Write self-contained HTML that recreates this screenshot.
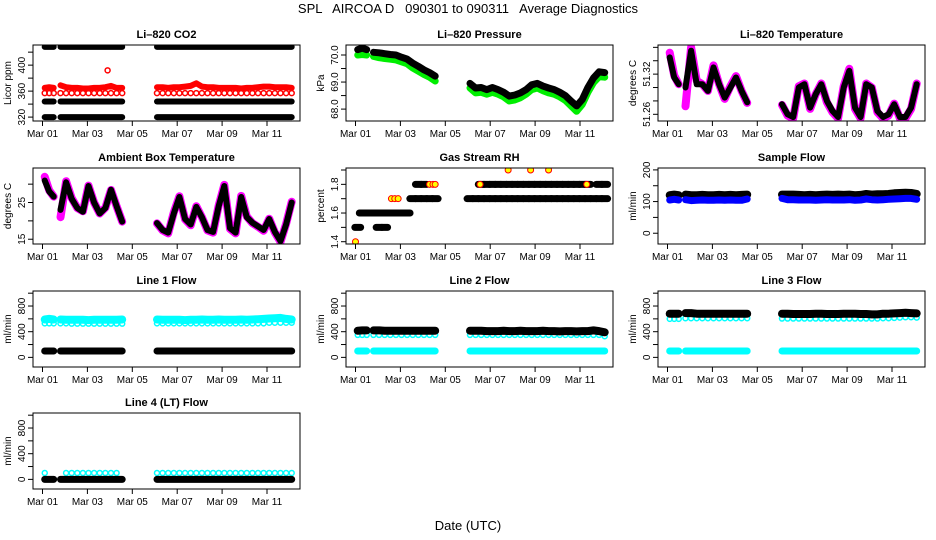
<!DOCTYPE html>
<html><head><meta charset="utf-8"><style>
html,body{margin:0;padding:0;background:#fff;}
svg{display:block;font-family:"Liberation Sans",sans-serif;}
</style></head><body>
<svg id="chart" width="936" height="540" viewBox="0 0 936 540" xmlns="http://www.w3.org/2000/svg">
<rect x="0" y="0" width="936" height="540" fill="#fff"/>
<text x="468" y="13" text-anchor="middle" font-size="13" style="white-space:pre" xml:space="preserve">SPL   AIRCOA D   090301 to 090311   Average Diagnostics</text>
<text x="468" y="530" text-anchor="middle" font-size="13">Date (UTC)</text>
</svg>
<script>
const T=[0.1,0.3,0.5, 0.8,1.05,1.3,1.55,1.8,2.05,2.3,2.55,2.8,3.05,3.3,3.55, 5.1,5.35,5.6,5.85,6.1,6.35,6.6,6.85,7.1,7.35,7.6,7.85,8.1,8.35,8.6,8.85,9.1,9.35,9.6,9.85,10.1,10.35,10.6,10.85,11.1];
const xTickDays=[0,2,4,6,8,10];
const xTickLabels=["Mar 01","Mar 03","Mar 05","Mar 07","Mar 09","Mar 11"];

const co2Black1=[320,320,320, 320,320,320,320,320,320,320,320,320,320,320,320, 320,320,320,320,320,320,320,320,320,320,320,320,320,320,320,320,320,320,320,320,320,320,320,320,320];
const co2Black2=[344,344,344, 344,344,344,344,344,344,344,344,344,344,344,344, 344,344,344,344,344,344,344,344,344,344,344,344,344,344,344,344,344,344,344,344,344,344,344,344,344];
const co2Black3=[428,428,428, 428,428,428,428,428,428,428,428,428,428,428,428, 428,428,428,428,428,428,428,428,428,428,428,428,428,428,428,428,428,428,428,428,428,428,428,428,428];
const co2Red=[365,366,365, 369,366,365,365,364,364,365,365,366,368,365,365, 366,366,365,366,366,367,368,372,367,366,366,365,365,365,365,364,365,365,366,367,367,366,366,366,365];
const co2RedLow=[357,357,357, 357,357,357,357,357,357,357,357,357,357,357,357, 357,357,357,357,357,357,357,357,357,357,357,357,357,357,357,357,357,357,357,357,357,357,357,357,357];
const co2SpikeT=[2.9];
const co2SpikeV=[392];

const pressBlack=[70.2,70.25,70.2, 70.1,70.08,70.05,70.02,70.0,69.92,69.85,69.7,69.58,69.45,69.35,69.22, 68.95,68.78,68.8,68.72,68.8,68.72,68.62,68.48,68.52,68.6,68.72,68.9,68.95,68.85,68.78,68.72,68.62,68.5,68.3,68.12,68.35,68.8,69.15,69.38,69.35];
const pressGreen=[70.0,70.02,70.0, 69.95,69.9,69.87,69.85,69.82,69.75,69.68,69.52,69.4,69.28,69.18,69.04, 68.78,68.6,68.62,68.55,68.62,68.55,68.45,68.3,68.34,68.42,68.55,68.72,68.78,68.68,68.6,68.55,68.45,68.32,68.12,67.92,68.17,68.62,68.98,69.2,69.18];

const tempBlack=[51.345,51.315,51.305, 51.30,51.355,51.305,51.305,51.295,51.33,51.305,51.285,51.30,51.315,51.295,51.278, 51.275,51.26,51.256,51.30,51.305,51.27,51.29,51.305,51.28,51.265,51.256,51.30,51.325,51.27,51.256,51.305,51.30,51.265,51.256,51.26,51.275,51.256,51.256,51.27,51.305];
const tempMag=[51.352,51.318,51.305, 51.272,51.36,51.31,51.305,51.295,51.333,51.305,51.283,51.302,51.317,51.295,51.277, 51.274,51.258,51.254,51.302,51.306,51.268,51.29,51.306,51.278,51.263,51.254,51.302,51.328,51.268,51.254,51.306,51.3,51.263,51.254,51.258,51.276,51.254,51.254,51.268,51.306];

const ambBlack=[31,28,26.6, 23,30.5,26,23.5,22.5,29.5,25,22,23.5,28.5,24,19.8, 19.4,17.5,16.8,22,26.5,20.5,19,23.8,21,17.5,17,24,29.5,18,16.8,26.5,21,19.5,18.5,17.5,20.5,17,14.5,19,25];
const ambMag=[32,28.3,26.6, 21,30.8,26.2,23.5,22.6,29.6,25,22,23.6,28.4,24,19.8, 19.3,17.4,16.6,22.3,26.7,20.4,18.8,24,21,17.4,16.8,24.2,29.8,17.8,16.6,26.8,21.2,19.4,18.4,17.3,20.6,16.8,14.3,19.2,25.2];

const rhLow=[1.5,1.6,1.6, 1.6,1.5,1.5,1.6,1.6,1.6,1.6,1.7,1.7,1.7,1.7,1.7, 1.7,1.7,1.7,1.7,1.7,1.7,1.7,1.7,1.7,1.7,1.7,1.7,1.7,1.7,1.7,1.7,1.7,1.7,1.7,1.7,1.7,1.7,1.7,1.7,1.7];
const rhHigh=[null,null,null, null,1.6,1.6,null,null,null,null,null,1.8,1.8,null,null, null,null,1.8,1.8,1.8,1.8,1.8,1.8,1.8,1.8,1.8,1.8,1.8,1.8,1.8,1.8,1.8,1.8,1.8,1.8,1.8,1.8,null,1.8,1.8];
const rhFlagT=[0.0,1.6,1.75,1.9,3.3,3.45,3.55,5.55,6.8,7.8,8.6,10.3];
const rhFlagV=[1.4,1.7,1.7,1.7,1.8,1.8,1.8,1.8,1.9,1.9,1.9,1.8];

const sampleBlack=[120,122,120, 122,120,120,121,120,120,121,120,121,120,121,122, 122,122,122,121,120,121,120,121,122,121,122,121,122,120,121,124,122,123,123,124,126,127,128,127,124];
const sampleBlue=[105,107,105, 106,103,104,105,104,104,105,104,105,104,104,108, 110,106,106,105,105,105,104,105,106,105,105,105,106,104,105,108,106,105,106,107,108,109,110,110,107];

const line1Cyan=[590,600,590, 590,585,585,585,585,580,585,585,585,585,585,590, 590,585,585,585,585,580,585,585,590,585,585,590,585,585,585,590,585,590,595,600,605,610,615,600,590];
const line1CyanLow=[530,530,530, 530,530,525,525,525,525,525,525,525,525,525,525, 530,530,530,530,530,530,530,530,530,530,530,530,530,530,530,530,530,530,530,530,540,540,540,540,540];
const line1Black=[100,100,100, 100,100,100,100,100,100,100,100,100,100,100,100, 100,100,100,100,100,100,100,100,100,100,100,100,100,100,100,100,100,100,100,100,100,100,100,100,100];

const line2Black=[415,420,420, 420,420,415,415,415,415,415,415,415,415,415,415, 415,415,415,410,410,410,415,410,410,415,410,410,410,415,410,410,405,410,410,405,410,410,420,410,390];
const line2CyanLow=[350,350,350, 350,350,350,350,350,350,350,350,350,350,350,350, 350,350,350,350,350,350,350,350,350,350,350,350,350,350,350,350,350,350,350,350,350,350,350,350,330];
const line2CyanBase=[100,100,100, 100,100,100,100,100,100,100,100,100,100,100,100, 100,100,100,100,100,100,100,100,100,100,100,100,100,100,100,100,100,100,100,100,100,100,100,100,100];

const line3Black=[680,680,680, 690,690,680,680,680,680,680,680,680,680,680,680, 680,680,675,675,675,675,680,680,675,675,675,680,680,680,675,675,670,670,680,680,685,690,695,690,685];
const line3CyanLow=[600,600,600, 610,610,610,610,610,610,610,610,610,610,610,610, 605,605,605,605,605,605,605,605,605,605,605,605,605,605,605,605,605,605,610,610,615,620,625,625,620];
const line3CyanBase=[100,100,100, 100,100,100,100,100,100,100,100,100,100,100,100, 100,100,100,100,100,100,100,100,100,100,100,100,100,100,100,100,100,100,100,100,100,100,100,100,100];

const line4Black=[0,0,0, 0,0,0,0,0,0,0,0,0,0,0,0, 0,0,0,0,0,0,0,0,0,0,0,0,0,0,0,0,0,0,0,0,0,0,0,0,0];
const line4Cyan=[100,null,null, null,100,100,100,100,100,100,100,100,100,100,null, 100,100,100,100,100,100,100,100,100,100,100,100,100,100,100,100,100,100,100,100,100,100,100,100,100];

const NS="http://www.w3.org/2000/svg";
const svg=document.getElementById('chart');
const colX=[33,346,658], rowY=[45,168,291,413], BW=267, BH=76;

function el(tag,parent){const e=document.createElementNS(NS,tag);parent.appendChild(e);return e;}

function makePanel(col,row,name,title,ylab,ymin,ymax,ticks,labels,series){
  const bx=colX[col], by=rowY[row];
  const g=el('g',svg);
  
  
  const xs=d=>bx+9.5+d*22.45;
  const ys=v=>by+BH-(v-ymin)/(ymax-ymin)*BH;
  const clipId='clip-'+name;
  const cp=el('clipPath',g); cp.setAttribute('id',clipId);
  const cr=el('rect',cp); cr.setAttribute('x',bx);cr.setAttribute('y',by);cr.setAttribute('width',BW);cr.setAttribute('height',BH);
  const t=el('text',g);
  t.setAttribute('x',bx+BW/2);t.setAttribute('y',by-7);t.setAttribute('text-anchor','middle');t.setAttribute('font-size','11');t.setAttribute('font-weight','bold');
  t.textContent=title;
  
  
  const yl=el('text',g);
  yl.setAttribute('transform','translate('+(bx-22)+','+(by+BH/2)+') rotate(-90)');
  yl.setAttribute('text-anchor','middle');yl.setAttribute('font-size','10');
  yl.textContent=ylab;
  
  
  const plot=el('g',g); plot.setAttribute('clip-path','url(#'+clipId+')');
  
  
  series.forEach((s,si)=>{
    const sg=el('g',plot);
    
    
    const tt=s.t||T;
    if(s.type==='line'){
      let seg=[];const segs=[];
      for(let i=0;i<tt.length;i++){
        if(s.v[i]==null){if(seg.length)segs.push(seg);seg=[];continue;}
        if(seg.length&&tt[i]-seg[seg.length-1][0]>0.27){segs.push(seg);seg=[];}
        seg.push([tt[i],s.v[i]]);
      }
      if(seg.length)segs.push(seg);
      segs.forEach(sg2=>{
        const p=el('path',sg);
        let d='';
        if(sg2.length===1){d='M'+(xs(sg2[0][0])-2)+','+ys(sg2[0][1])+'L'+(xs(sg2[0][0])+2)+','+ys(sg2[0][1]);}
        else d=sg2.map((q,k)=>(k?'L':'M')+xs(q[0]).toFixed(1)+','+ys(q[1]).toFixed(1)).join('');
        p.setAttribute('d',d);p.setAttribute('fill','none');p.setAttribute('stroke',s.color);
        p.setAttribute('stroke-width',s.w||7);p.setAttribute('stroke-linecap','round');p.setAttribute('stroke-linejoin','round');
        
        
      });
    } else if(s.type==='cap'){
      for(let i=0;i<tt.length;i++){ if(s.v[i]==null)continue;
        const p=el('line',sg);
        p.setAttribute('x1',xs(tt[i]-0.13));p.setAttribute('x2',xs(tt[i]+0.13));
        p.setAttribute('y1',ys(s.v[i]));p.setAttribute('y2',ys(s.v[i]));
        p.setAttribute('stroke',s.color);p.setAttribute('stroke-width',s.w||7);p.setAttribute('stroke-linecap','round');
        
        
      }
    } else {
      for(let i=0;i<tt.length;i++){ if(s.v[i]==null)continue;
        const c=el('circle',sg);
        c.setAttribute('cx',xs(tt[i]));c.setAttribute('cy',ys(s.v[i]));c.setAttribute('r',s.r||2.5);
        c.setAttribute('fill',s.fill||'none');c.setAttribute('stroke',s.color);c.setAttribute('stroke-width',s.sw||1.5);
        
        
      }
    }
  });
  const box=el('rect',g);
  box.setAttribute('x',bx);box.setAttribute('y',by);box.setAttribute('width',BW);box.setAttribute('height',BH);
  box.setAttribute('fill','none');box.setAttribute('stroke','#000');box.setAttribute('stroke-width','1');
  
  
  ticks.forEach((v,i)=>{
    const y=ys(v);
    const tk=el('line',g);
    tk.setAttribute('x1',bx-5);tk.setAttribute('x2',bx);tk.setAttribute('y1',y);tk.setAttribute('y2',y);tk.setAttribute('stroke','#000');
    
    
    if(labels[i]!==''){
      const lt=el('text',g);
      lt.setAttribute('transform','translate('+(bx-8)+','+y+') rotate(-90)');
      lt.setAttribute('text-anchor','middle');lt.setAttribute('font-size','10');
      lt.textContent=labels[i];
      
      
    }
  });
  xTickDays.forEach((d,i)=>{
    const x=xs(d);
    const tk=el('line',g);
    tk.setAttribute('x1',x);tk.setAttribute('x2',x);tk.setAttribute('y1',by+BH);tk.setAttribute('y2',by+BH+5);tk.setAttribute('stroke','#000');
    
    
    const lt=el('text',g);
    lt.setAttribute('x',x);lt.setAttribute('y',by+BH+16);lt.setAttribute('text-anchor','middle');lt.setAttribute('font-size','10');
    lt.textContent=xTickLabels[i];
    
    
  });
}

makePanel(0,0,'co2','Li\u2013820 CO2','Licor ppm',314,431,[320,340,360,380,400,420],['320','','360','','400',''],[
 {id:'black-low',type:'line',v:co2Black1,color:'#000',w:6},
 {id:'black-mid',type:'line',v:co2Black2,color:'#000',w:6},
 {id:'black-high',type:'line',v:co2Black3,color:'#000',w:6},
 {id:'red',type:'line',v:co2Red,color:'#f00',w:6},
 {id:'red-low',type:'pts',v:co2RedLow,color:'#f00',r:2.5},
 {id:'red-spike',type:'pts',t:co2SpikeT,v:co2SpikeV,color:'#f00',r:2.5}
]);
makePanel(1,0,'pressure','Li\u2013820 Pressure','kPa',67.56,70.37,[68,68.5,69,69.5,70],['68.0','','69.0','','70.0'],[
 {id:'green',type:'line',v:pressGreen,color:'#00ee00',w:7},
 {id:'black',type:'line',v:pressBlack,color:'#000',w:7}
]);
makePanel(2,0,'li820-temp','Li\u2013820 Temperature','degrees C',51.25,51.3635,[51.26,51.28,51.30,51.32,51.34,51.36],['51.26','','','51.32','',''],[
 {id:'magenta',type:'line',v:tempMag,color:'#f0f',w:8},
 {id:'black',type:'line',v:tempBlack,color:'#000',w:6}
]);
makePanel(0,1,'ambient-temp','Ambient Box Temperature','degrees C',13.7,34.4,[15,20,25,30],['15','','25',''],[
 {id:'magenta',type:'line',v:ambMag,color:'#f0f',w:8},
 {id:'black',type:'line',v:ambBlack,color:'#000',w:6}
]);
makePanel(1,1,'gas-rh','Gas Stream RH','percent',1.384,1.914,[1.4,1.5,1.6,1.7,1.8,1.9],['1.4','','1.6','','1.8',''],[
 {id:'black-low',type:'cap',v:rhLow,color:'#000',w:7},
 {id:'black-high',type:'cap',v:rhHigh,color:'#000',w:7},
 {id:'flagged',type:'pts',t:rhFlagT,v:rhFlagV,color:'#f00',fill:'#ff0',r:3,sw:1}
]);
makePanel(2,1,'sample-flow','Sample Flow','ml/min',-34,206,[0,50,100,150,200],['0','','100','','200'],[
 {id:'black',type:'line',v:sampleBlack,color:'#000',w:8},
 {id:'blue',type:'line',v:sampleBlue,color:'#00f',w:7}
]);
makePanel(0,2,'line1-flow','Line 1 Flow','ml/min',-150,1034,[0,200,400,600,800,1000],['0','','400','','800',''],[
 {id:'cyan',type:'line',v:line1Cyan,color:'#0ff',w:8},
 {id:'cyan-low',type:'pts',v:line1CyanLow,color:'#0ff',r:2.5},
 {id:'black',type:'line',v:line1Black,color:'#000',w:7}
]);
makePanel(1,2,'line2-flow','Line 2 Flow','ml/min',-150,1034,[0,200,400,600,800,1000],['0','','400','','800',''],[
 {id:'cyan-base',type:'line',v:line2CyanBase,color:'#0ff',w:7},
 {id:'cyan-low',type:'pts',v:line2CyanLow,color:'#0ff',r:2.5},
 {id:'black',type:'line',v:line2Black,color:'#000',w:8}
]);
makePanel(2,2,'line3-flow','Line 3 Flow','ml/min',-150,1034,[0,200,400,600,800,1000],['0','','400','','800',''],[
 {id:'cyan-base',type:'line',v:line3CyanBase,color:'#0ff',w:7},
 {id:'cyan-low',type:'pts',v:line3CyanLow,color:'#0ff',r:2.5},
 {id:'black',type:'line',v:line3Black,color:'#000',w:8}
]);
makePanel(0,3,'line4-flow','Line 4 (LT) Flow','ml/min',-150,1034,[0,200,400,600,800,1000],['0','','400','','800',''],[
 {id:'cyan',type:'pts',v:line4Cyan,color:'#0ff',r:2.5},
 {id:'black',type:'line',v:line4Black,color:'#000',w:7}
]);
</script>
</body></html>
